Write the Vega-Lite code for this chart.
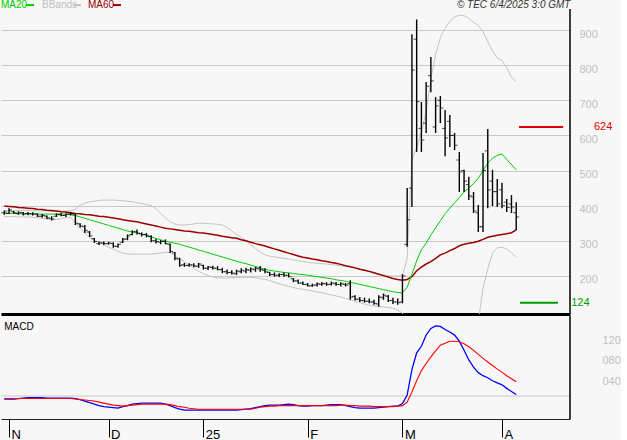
{
  "$schema": "https://vega.github.io/schema/vega-lite/v6.json",
  "background": "#f7f7f7",
  "padding": {"left": 0, "top": 0, "right": 0, "bottom": 0},
  "spacing": 0,
  "config": {"view": {"stroke": null}, "font": "Liberation Sans"},
  "datasets": {
    "bars": [
      {"i":0,"o":380,"h":386,"l":374,"c":382,"m20":378,"m60":399,"up":386,"lo":369,"macd":-6,"sig":-5},
      {"i":1,"o":378,"h":393,"l":376,"c":388,"m20":378,"m60":398,"up":386,"lo":369,"macd":-6,"sig":-5},
      {"i":2,"o":383,"h":385,"l":377,"c":380,"m20":378,"m60":397,"up":386,"lo":369,"macd":-6,"sig":-5},
      {"i":3,"o":378,"h":384,"l":374,"c":380,"m20":377,"m60":395,"up":386,"lo":368,"macd":-5,"sig":-5},
      {"i":4,"o":380,"h":382,"l":372,"c":376,"m20":377,"m60":394,"up":386,"lo":368,"macd":-4,"sig":-5},
      {"i":5,"o":378,"h":382,"l":373,"c":377,"m20":377,"m60":393,"up":386,"lo":368,"macd":-3,"sig":-5},
      {"i":6,"o":377,"h":381,"l":372,"c":376,"m20":377,"m60":392,"up":386,"lo":367,"macd":-3,"sig":-5},
      {"i":7,"o":376,"h":378,"l":368,"c":370,"m20":376,"m60":390,"up":385,"lo":366,"macd":-3,"sig":-5},
      {"i":8,"o":370,"h":376,"l":366,"c":372,"m20":376,"m60":389,"up":385,"lo":364,"macd":-3,"sig":-5},
      {"i":9,"o":370,"h":372,"l":362,"c":365,"m20":376,"m60":387,"up":385,"lo":362,"macd":-4,"sig":-5},
      {"i":10,"o":364,"h":370,"l":358,"c":362,"m20":376,"m60":386,"up":384,"lo":360,"macd":-4,"sig":-5},
      {"i":11,"o":370,"h":378,"l":368,"c":375,"m20":376,"m60":385,"up":384,"lo":361,"macd":-4,"sig":-5},
      {"i":12,"o":374,"h":380,"l":370,"c":372,"m20":376,"m60":383,"up":384,"lo":363,"macd":-4,"sig":-5},
      {"i":13,"o":372,"h":378,"l":368,"c":376,"m20":376,"m60":382,"up":385,"lo":366,"macd":-4,"sig":-5},
      {"i":14,"o":376,"h":382,"l":372,"c":378,"m20":375,"m60":380,"up":386,"lo":367,"macd":-4,"sig":-5},
      {"i":15,"o":374,"h":376,"l":345,"c":350,"m20":372,"m60":378,"up":390,"lo":350,"macd":-5,"sig":-6},
      {"i":16,"o":348,"h":350,"l":338,"c":342,"m20":368,"m60":377,"up":402,"lo":335,"macd":-7,"sig":-7},
      {"i":17,"o":340,"h":345,"l":322,"c":330,"m20":364,"m60":375,"up":407,"lo":322,"macd":-10,"sig":-8},
      {"i":18,"o":325,"h":328,"l":311,"c":314,"m20":360,"m60":374,"up":411,"lo":310,"macd":-13,"sig":-9},
      {"i":19,"o":306,"h":308,"l":294,"c":298,"m20":356,"m60":372,"up":413,"lo":302,"macd":-16,"sig":-10},
      {"i":20,"o":292,"h":298,"l":288,"c":294,"m20":352,"m60":370,"up":415,"lo":295,"macd":-19,"sig":-12},
      {"i":21,"o":294,"h":298,"l":288,"c":292,"m20":348,"m60":369,"up":416,"lo":288,"macd":-21,"sig":-14},
      {"i":22,"o":292,"h":297,"l":289,"c":294,"m20":344,"m60":367,"up":416,"lo":282,"macd":-22,"sig":-16},
      {"i":23,"o":292,"h":296,"l":280,"c":285,"m20":340,"m60":365,"up":416,"lo":276,"macd":-23,"sig":-18},
      {"i":24,"o":284,"h":292,"l":280,"c":290,"m20":336,"m60":363,"up":415,"lo":270,"macd":-24,"sig":-19},
      {"i":25,"o":296,"h":308,"l":294,"c":305,"m20":332,"m60":360,"up":414,"lo":265,"macd":-21,"sig":-20},
      {"i":26,"o":305,"h":318,"l":302,"c":314,"m20":328,"m60":358,"up":413,"lo":263,"macd":-19,"sig":-19},
      {"i":27,"o":318,"h":330,"l":316,"c":326,"m20":325,"m60":356,"up":411,"lo":262,"macd":-16,"sig":-18},
      {"i":28,"o":326,"h":332,"l":318,"c":322,"m20":322,"m60":354,"up":409,"lo":262,"macd":-15,"sig":-17},
      {"i":29,"o":320,"h":324,"l":312,"c":318,"m20":319,"m60":351,"up":406,"lo":262,"macd":-14,"sig":-16},
      {"i":30,"o":318,"h":322,"l":310,"c":314,"m20":315,"m60":348,"up":403,"lo":262,"macd":-14,"sig":-16},
      {"i":31,"o":312,"h":316,"l":296,"c":300,"m20":311,"m60":345,"up":400,"lo":262,"macd":-14,"sig":-16},
      {"i":32,"o":300,"h":305,"l":292,"c":298,"m20":307,"m60":342,"up":392,"lo":264,"macd":-14,"sig":-16},
      {"i":33,"o":296,"h":302,"l":290,"c":298,"m20":303,"m60":339,"up":378,"lo":265,"macd":-14,"sig":-16},
      {"i":34,"o":298,"h":304,"l":290,"c":292,"m20":299,"m60":336,"up":365,"lo":268,"macd":-16,"sig":-16},
      {"i":35,"o":290,"h":292,"l":265,"c":270,"m20":296,"m60":334,"up":354,"lo":266,"macd":-19,"sig":-17},
      {"i":36,"o":266,"h":268,"l":245,"c":250,"m20":293,"m60":332,"up":348,"lo":258,"macd":-23,"sig":-19},
      {"i":37,"o":248,"h":252,"l":226,"c":230,"m20":290,"m60":330,"up":345,"lo":248,"macd":-26,"sig":-21},
      {"i":38,"o":232,"h":237,"l":226,"c":230,"m20":286,"m60":328,"up":345,"lo":241,"macd":-28,"sig":-22},
      {"i":39,"o":230,"h":236,"l":226,"c":232,"m20":282,"m60":327,"up":346,"lo":231,"macd":-28,"sig":-24},
      {"i":40,"o":231,"h":236,"l":225,"c":228,"m20":278,"m60":325,"up":348,"lo":222,"macd":-28,"sig":-25},
      {"i":41,"o":228,"h":237,"l":223,"c":234,"m20":274,"m60":323,"up":350,"lo":213,"macd":-28,"sig":-26},
      {"i":42,"o":230,"h":232,"l":218,"c":222,"m20":270,"m60":322,"up":350,"lo":207,"macd":-28,"sig":-26},
      {"i":43,"o":222,"h":228,"l":217,"c":226,"m20":266,"m60":320,"up":349,"lo":201,"macd":-28,"sig":-26},
      {"i":44,"o":224,"h":229,"l":218,"c":222,"m20":262,"m60":318,"up":348,"lo":197,"macd":-28,"sig":-26},
      {"i":45,"o":222,"h":228,"l":216,"c":218,"m20":258,"m60":316,"up":347,"lo":195,"macd":-28,"sig":-26},
      {"i":46,"o":218,"h":223,"l":208,"c":212,"m20":254,"m60":313,"up":345,"lo":194,"macd":-28,"sig":-26},
      {"i":47,"o":212,"h":218,"l":205,"c":210,"m20":250,"m60":311,"up":338,"lo":194,"macd":-28,"sig":-26},
      {"i":48,"o":210,"h":216,"l":204,"c":208,"m20":246,"m60":309,"up":328,"lo":195,"macd":-28,"sig":-26},
      {"i":49,"o":206,"h":218,"l":203,"c":214,"m20":242,"m60":307,"up":318,"lo":195,"macd":-28,"sig":-26},
      {"i":50,"o":212,"h":222,"l":208,"c":216,"m20":238,"m60":303,"up":310,"lo":196,"macd":-27,"sig":-26},
      {"i":51,"o":214,"h":223,"l":208,"c":218,"m20":235,"m60":300,"up":300,"lo":196,"macd":-26,"sig":-26},
      {"i":52,"o":216,"h":224,"l":210,"c":220,"m20":231,"m60":296,"up":288,"lo":196,"macd":-25,"sig":-26},
      {"i":53,"o":218,"h":226,"l":212,"c":222,"m20":227,"m60":292,"up":278,"lo":195,"macd":-23,"sig":-24},
      {"i":54,"o":220,"h":228,"l":212,"c":218,"m20":223,"m60":289,"up":268,"lo":192,"macd":-21,"sig":-22},
      {"i":55,"o":216,"h":222,"l":208,"c":212,"m20":219,"m60":285,"up":260,"lo":190,"macd":-19,"sig":-21},
      {"i":56,"o":210,"h":212,"l":200,"c":204,"m20":216,"m60":281,"up":256,"lo":187,"macd":-18,"sig":-20},
      {"i":57,"o":204,"h":210,"l":198,"c":202,"m20":214,"m60":277,"up":254,"lo":182,"macd":-18,"sig":-20},
      {"i":58,"o":202,"h":208,"l":197,"c":204,"m20":212,"m60":273,"up":252,"lo":178,"macd":-18,"sig":-19},
      {"i":59,"o":204,"h":210,"l":198,"c":202,"m20":210,"m60":269,"up":250,"lo":174,"macd":-17,"sig":-19},
      {"i":60,"o":202,"h":208,"l":196,"c":198,"m20":209,"m60":265,"up":248,"lo":170,"macd":-16,"sig":-19},
      {"i":61,"o":192,"h":194,"l":182,"c":186,"m20":207,"m60":261,"up":246,"lo":167,"macd":-17,"sig":-19},
      {"i":62,"o":186,"h":190,"l":178,"c":180,"m20":205,"m60":257,"up":243,"lo":164,"macd":-19,"sig":-19},
      {"i":63,"o":180,"h":184,"l":174,"c":176,"m20":204,"m60":253,"up":241,"lo":162,"macd":-20,"sig":-19},
      {"i":64,"o":176,"h":180,"l":170,"c":172,"m20":202,"m60":251,"up":239,"lo":160,"macd":-20,"sig":-19},
      {"i":65,"o":172,"h":178,"l":169,"c":174,"m20":200,"m60":248,"up":237,"lo":157,"macd":-19,"sig":-19},
      {"i":66,"o":174,"h":181,"l":170,"c":178,"m20":198,"m60":246,"up":236,"lo":155,"macd":-19,"sig":-19},
      {"i":67,"o":176,"h":183,"l":172,"c":178,"m20":196,"m60":243,"up":235,"lo":152,"macd":-19,"sig":-19},
      {"i":68,"o":178,"h":182,"l":172,"c":176,"m20":194,"m60":241,"up":234,"lo":149,"macd":-18,"sig":-19},
      {"i":69,"o":176,"h":184,"l":173,"c":180,"m20":192,"m60":238,"up":232,"lo":146,"macd":-17,"sig":-19},
      {"i":70,"o":178,"h":183,"l":172,"c":176,"m20":189,"m60":236,"up":231,"lo":143,"macd":-17,"sig":-19},
      {"i":71,"o":176,"h":182,"l":170,"c":178,"m20":187,"m60":233,"up":229,"lo":140,"macd":-17,"sig":-18},
      {"i":72,"o":176,"h":180,"l":170,"c":174,"m20":185,"m60":229,"up":228,"lo":136,"macd":-19,"sig":-18},
      {"i":73,"o":178,"h":188,"l":132,"c":140,"m20":182,"m60":226,"up":226,"lo":132,"macd":-21,"sig":-19},
      {"i":74,"o":142,"h":145,"l":130,"c":134,"m20":179,"m60":223,"up":223,"lo":128,"macd":-23,"sig":-19},
      {"i":75,"o":134,"h":140,"l":126,"c":130,"m20":176,"m60":219,"up":220,"lo":124,"macd":-24,"sig":-20},
      {"i":76,"o":130,"h":138,"l":124,"c":128,"m20":173,"m60":216,"up":216,"lo":120,"macd":-24,"sig":-20},
      {"i":77,"o":128,"h":136,"l":122,"c":126,"m20":170,"m60":213,"up":212,"lo":117,"macd":-24,"sig":-20},
      {"i":78,"o":126,"h":132,"l":118,"c":122,"m20":167,"m60":209,"up":209,"lo":115,"macd":-24,"sig":-21},
      {"i":79,"o":120,"h":145,"l":112,"c":140,"m20":164,"m60":205,"up":206,"lo":113,"macd":-23,"sig":-21},
      {"i":80,"o":138,"h":150,"l":132,"c":145,"m20":161,"m60":201,"up":203,"lo":112,"macd":-22,"sig":-21},
      {"i":81,"o":142,"h":146,"l":126,"c":130,"m20":158,"m60":197,"up":200,"lo":110,"macd":-21,"sig":-21},
      {"i":82,"o":130,"h":138,"l":120,"c":126,"m20":155,"m60":193,"up":200,"lo":108,"macd":-20,"sig":-21},
      {"i":83,"o":126,"h":136,"l":118,"c":124,"m20":153,"m60":190,"up":200,"lo":103,"macd":-20,"sig":-20},
      {"i":84,"o":126,"h":205,"l":122,"c":200,"m20":152,"m60":188,"up":200,"lo":94,"macd":-15,"sig":-19},
      {"i":85,"o":290,"h":450,"l":283,"c":360,"m20":168,"m60":190,"up":250,"lo":40,"macd":2,"sig":-12},
      {"i":86,"o":450,"h":888,"l":396,"c":786,"m20":205,"m60":198,"up":530,"lo":-100,"macd":52,"sig":8},
      {"i":87,"o":874,"h":930,"l":553,"c":696,"m20":243,"m60":215,"up":565,"lo":-250,"macd":85,"sig":30},
      {"i":88,"o":620,"h":695,"l":553,"c":587,"m20":275,"m60":225,"up":610,"lo":-350,"macd":98,"sig":50},
      {"i":89,"o":635,"h":752,"l":607,"c":740,"m20":293,"m60":234,"up":668,"lo":-400,"macd":120,"sig":64},
      {"i":90,"o":770,"h":823,"l":723,"c":755,"m20":317,"m60":241,"up":760,"lo":-450,"macd":133,"sig":77},
      {"i":91,"o":624,"h":709,"l":607,"c":684,"m20":337,"m60":250,"up":830,"lo":-480,"macd":138,"sig":89},
      {"i":92,"o":700,"h":712,"l":635,"c":678,"m20":357,"m60":260,"up":878,"lo":-490,"macd":137,"sig":100},
      {"i":93,"o":620,"h":672,"l":541,"c":593,"m20":377,"m60":265,"up":905,"lo":-480,"macd":131,"sig":104},
      {"i":94,"o":640,"h":658,"l":567,"c":600,"m20":393,"m60":272,"up":925,"lo":-450,"macd":126,"sig":108},
      {"i":95,"o":600,"h":607,"l":558,"c":572,"m20":408,"m60":278,"up":937,"lo":-420,"macd":120,"sig":108},
      {"i":96,"o":530,"h":553,"l":439,"c":496,"m20":423,"m60":286,"up":942,"lo":-380,"macd":108,"sig":107},
      {"i":97,"o":500,"h":502,"l":439,"c":470,"m20":439,"m60":290,"up":941,"lo":-330,"macd":90,"sig":103},
      {"i":98,"o":460,"h":482,"l":416,"c":428,"m20":450,"m60":293,"up":933,"lo":-250,"macd":71,"sig":97},
      {"i":99,"o":425,"h":439,"l":379,"c":385,"m20":463,"m60":295,"up":922,"lo":-100,"macd":57,"sig":90},
      {"i":100,"o":380,"h":402,"l":325,"c":340,"m20":478,"m60":299,"up":913,"lo":70,"macd":46,"sig":82},
      {"i":101,"o":340,"h":550,"l":325,"c":500,"m20":500,"m60":304,"up":895,"lo":165,"macd":40,"sig":74},
      {"i":102,"o":556,"h":618,"l":393,"c":445,"m20":521,"m60":310,"up":868,"lo":220,"macd":36,"sig":67},
      {"i":103,"o":470,"h":502,"l":399,"c":440,"m20":535,"m60":313,"up":840,"lo":265,"macd":30,"sig":60},
      {"i":104,"o":440,"h":476,"l":396,"c":405,"m20":543,"m60":316,"up":820,"lo":280,"macd":26,"sig":53},
      {"i":105,"o":445,"h":465,"l":393,"c":400,"m20":547,"m60":318,"up":814,"lo":282,"macd":22,"sig":47},
      {"i":106,"o":410,"h":419,"l":382,"c":395,"m20":532,"m60":320,"up":792,"lo":277,"macd":15,"sig":40},
      {"i":107,"o":405,"h":430,"l":379,"c":396,"m20":517,"m60":323,"up":765,"lo":266,"macd":9,"sig":34},
      {"i":108,"o":380,"h":410,"l":331,"c":368,"m20":502,"m60":331,"up":753,"lo":253,"macd":3,"sig":28}
    ]
  },
  "vconcat": [
    {
      "width": 569,
      "height": 314,
      "data": {"name": "bars"},
      "layer": [
        {
          "mark": {"type": "line", "color": "#c4c4c4", "strokeWidth": 1, "clip": true},
          "encoding": {
            "x": {"field": "i", "type": "quantitative", "scale": {"domain": [-0.688, 119.35], "nice": false, "zero": false},
                  "axis": {"orient": "bottom", "labels": false, "ticks": false, "grid": false, "domain": true, "domainColor": "#000000", "domainWidth": 3, "title": null}},
            "y": {"field": "up", "type": "quantitative", "scale": {"domain": [91.7, 985.4], "nice": false, "zero": false},
                  "axis": {"orient": "right", "values": [200, 300, 400, 500, 600, 700, 800, 900], "grid": true, "gridColor": "#c8c8c8", "gridWidth": 1, "domain": false, "ticks": false, "labelColor": "#c0c0c0", "labelFontSize": 11, "labelPadding": 9, "labelOffset": 4, "labelAlign": "left", "title": null}}
          }
        },
        {
          "mark": {"type": "line", "color": "#c4c4c4", "strokeWidth": 1, "clip": true},
          "encoding": {"x": {"field": "i", "type": "quantitative"}, "y": {"field": "lo", "type": "quantitative"}}
        },
        {
          "mark": {"type": "line", "color": "#990000", "strokeWidth": 1.5, "clip": true},
          "encoding": {"x": {"field": "i", "type": "quantitative"}, "y": {"field": "m60", "type": "quantitative"}}
        },
        {
          "mark": {"type": "line", "color": "#00cc00", "strokeWidth": 1, "clip": true},
          "encoding": {"x": {"field": "i", "type": "quantitative"}, "y": {"field": "m20", "type": "quantitative"}}
        },
        {
          "mark": {"type": "rule", "color": "#000000", "strokeWidth": 1.4},
          "encoding": {"x": {"field": "i", "type": "quantitative"}, "y": {"field": "l", "type": "quantitative"}, "y2": {"field": "h"}}
        },
        {
          "mark": {"type": "tick", "orient": "horizontal", "color": "#000000", "size": 3, "thickness": 1, "xOffset": -1.5},
          "encoding": {"x": {"field": "i", "type": "quantitative"}, "y": {"field": "o", "type": "quantitative"}}
        },
        {
          "mark": {"type": "tick", "orient": "horizontal", "color": "#000000", "size": 3, "thickness": 1, "xOffset": 1.5},
          "encoding": {"x": {"field": "i", "type": "quantitative"}, "y": {"field": "c", "type": "quantitative"}}
        },
        {
          "data": {"values": [{}]},
          "mark": {"type": "rule", "color": "#000000", "strokeWidth": 1.5},
          "encoding": {"x": {"datum": 119.35}, "y": {"datum": 960}, "y2": {"datum": 91.7}}
        },
        {
          "data": {"values": [{}]},
          "mark": {"type": "rule", "color": "#dd0000", "strokeWidth": 2},
          "encoding": {"x": {"datum": 108.6}, "x2": {"datum": 117.9}, "y": {"datum": 624}}
        },
        {
          "data": {"values": [{}]},
          "mark": {"type": "rule", "color": "#009900", "strokeWidth": 2},
          "encoding": {"x": {"datum": 108.8}, "x2": {"datum": 116.8}, "y": {"datum": 124}}
        },
        {
          "data": {"values": [{}]},
          "mark": {"type": "text", "text": "624", "color": "#dd0000", "fontSize": 11, "align": "left", "baseline": "middle"},
          "encoding": {"x": {"datum": 124.4}, "y": {"datum": 624}}
        },
        {
          "data": {"values": [{}]},
          "mark": {"type": "text", "text": "124", "color": "#009900", "fontSize": 11, "align": "left", "baseline": "middle"},
          "encoding": {"x": {"datum": 119.6}, "y": {"datum": 124}}
        },
        {
          "data": {"values": [{}]},
          "mark": {"type": "text", "text": "MA20", "color": "#00cc00", "fontSize": 10, "align": "left", "baseline": "middle"},
          "encoding": {"x": {"datum": -0.688}, "y": {"datum": 970}}
        },
        {
          "data": {"values": [{}]},
          "mark": {"type": "rule", "color": "#00cc00", "strokeWidth": 2},
          "encoding": {"x": {"datum": 4.59}, "x2": {"datum": 6.27}, "y": {"datum": 971}}
        },
        {
          "data": {"values": [{}]},
          "mark": {"type": "text", "text": "BBands", "color": "#c0c0c0", "fontSize": 10, "align": "left", "baseline": "middle"},
          "encoding": {"x": {"datum": 7.96}, "y": {"datum": 970}}
        },
        {
          "data": {"values": [{}]},
          "mark": {"type": "rule", "color": "#c0c0c0", "strokeWidth": 2},
          "encoding": {"x": {"datum": 14.5}, "x2": {"datum": 16.19}, "y": {"datum": 971}}
        },
        {
          "data": {"values": [{}]},
          "mark": {"type": "text", "text": "MA60", "color": "#990000", "fontSize": 10, "align": "left", "baseline": "middle"},
          "encoding": {"x": {"datum": 17.67}, "y": {"datum": 970}}
        },
        {
          "data": {"values": [{}]},
          "mark": {"type": "rule", "color": "#990000", "strokeWidth": 2},
          "encoding": {"x": {"datum": 22.94}, "x2": {"datum": 24.63}, "y": {"datum": 971}}
        },
        {
          "data": {"values": [{}]},
          "mark": {"type": "text", "text": "© TEC 6/4/2025 3:0 GMT", "color": "#333333", "fontSize": 10, "fontStyle": "italic", "align": "left", "baseline": "middle"},
          "encoding": {"x": {"datum": 95.5}, "y": {"datum": 970}}
        }
      ]
    },
    {
      "width": 569,
      "height": 103,
      "data": {"name": "bars"},
      "layer": [
        {
          "data": {"values": [{}]},
          "mark": {"type": "rule", "color": "#c8c8c8", "strokeWidth": 1},
          "encoding": {"y": {"datum": 0, "type": "quantitative", "scale": {"domain": [-45.3, 157.6], "nice": false, "zero": false}}}
        },
        {
          "mark": {"type": "line", "color": "#0000ff", "strokeWidth": 1.3, "clip": true},
          "encoding": {
            "x": {"field": "i", "type": "quantitative", "scale": {"domain": [-0.688, 119.35], "nice": false, "zero": false},
                  "axis": {"orient": "bottom", "values": [1, 22, 42, 64, 84, 105], "labelExpr": "datum.value == 1 ? 'N' : datum.value == 22 ? 'D' : datum.value == 42 ? '25' : datum.value == 64 ? 'F' : datum.value == 84 ? 'M' : 'A'", "grid": false, "domain": true, "domainColor": "#222222", "domainWidth": 1, "ticks": true, "tickColor": "#000000", "tickSize": 18, "tickWidth": 1, "labelAlign": "left", "labelBaseline": "alphabetic", "labelPadding": 1, "labelOffset": 2, "labelFontSize": 13, "labelColor": "#000000", "labelOverlap": false, "labelBound": false, "labelFlush": false, "title": null}},
            "y": {"field": "macd", "type": "quantitative",
                  "axis": {"orient": "right", "values": [40, 80, 120], "format": "03d", "grid": false, "domain": false, "ticks": false, "labelColor": "#c0c0c0", "labelFontSize": 11, "labelPadding": 32, "labelOffset": 5.5, "labelAlign": "left", "title": null}}
          }
        },
        {
          "mark": {"type": "line", "color": "#ff0000", "strokeWidth": 1.1, "clip": true},
          "encoding": {"x": {"field": "i", "type": "quantitative"}, "y": {"field": "sig", "type": "quantitative"}}
        },
        {
          "data": {"values": [{}]},
          "mark": {"type": "rule", "color": "#000000", "strokeWidth": 1.5},
          "encoding": {"x": {"datum": 119.35}, "y": {"datum": 157.6}, "y2": {"datum": -45.3}}
        },
        {
          "data": {"values": [{}]},
          "mark": {"type": "text", "text": "MACD", "color": "#000000", "fontSize": 10, "align": "left", "baseline": "middle"},
          "encoding": {"x": {"datum": 0}, "y": {"datum": 136}}
        }
      ]
    }
  ]
}
